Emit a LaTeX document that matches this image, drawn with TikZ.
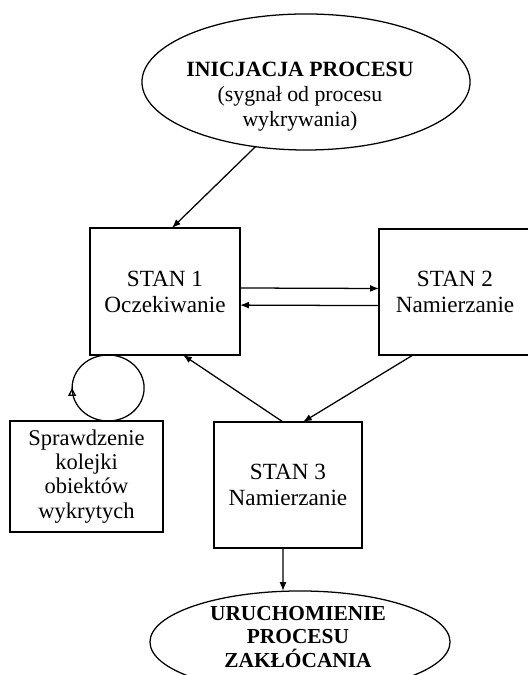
\documentclass[tikz,border=0pt]{standalone}
\usepackage{fontspec}
\setmainfont{Liberation Serif}
\usetikzlibrary{shapes.geometric,arrows.meta,decorations.markings}

\tikzset{
  stanbox/.style={draw, line width=0.9pt, align=center, inner sep=0pt, outer sep=0pt,
    font=\fontsize{16.5}{18.5}\selectfont},
  procell/.style={draw, ellipse, line width=0.9pt, inner sep=0pt, outer sep=0pt},
  proctxt/.style={align=center, inner sep=0pt},
  strz/.style={line width=0.9pt, -{Latex[length=0.22cm,width=0.17cm]}},
  petla/.style={line width=0.9pt, postaction={decorate},
    decoration={markings, mark=at position 0.25 with {\arrow{Triangle[open,length=0.2cm,width=0.2cm]}}}},
}

\begin{document}
\begin{tikzpicture}[x=0.025cm,y=0.025cm]
    \useasboundingbox (0,0) rectangle (527,675);
    % inicjacja
    \node[procell, minimum width=8.2cm, minimum height=3.4cm] (init) at (306,593) {};
    \node[proctxt, font=\fontsize{15.5}{17.7}\selectfont] (inittxt) at (300,578)
        {\textbf{INICJACJA PROCESU}\\(sygnał od procesu\\wykrywania)};

    % stany
    \node[stanbox, minimum width=3.75cm, minimum height=3.175cm] (stan1) at (165,383.5) {STAN 1\\Oczekiwanie};
    \node[stanbox, minimum width=3.8cm, minimum height=3.15cm] (stan2) at (455,383) {STAN 2\\Namierzanie};
    \node[stanbox, minimum width=3.7cm, minimum height=3.15cm] (stan3) at (288,190) {STAN 3\\Namierzanie};
    \node[stanbox, minimum width=3.825cm, minimum height=2.775cm, font=\fontsize{16}{17.2}\selectfont]
        (sprawdz) at (86.5,198.5) {Sprawdzenie\\kolejki\\obiektów\\wykrytych};

    % zaklocanie
    \node[procell, minimum width=7.5cm, minimum height=2.55cm] (wynik) at (300,33) {};
    \node[proctxt, font=\bfseries\fontsize{15.2}{16.6}\selectfont] (wyniktxt) at (298,38)
        {URUCHOMIENIE\\PROCESU\\ZAKŁÓCANIA};
    \coordinate (wejscie) at (283,84);

    % przejscia
    \draw[strz] (init.232) -- ([xshift=0.175cm]stan1.north);
    \draw[strz] ([yshift=0.0875cm]stan1.east) -- ([yshift=0.0875cm]stan2.west);
    \draw[strz] ([yshift=-0.34cm]stan2.west) -- ([yshift=-0.34cm]stan1.east);
    \draw[strz] ([xshift=-0.125cm]stan3.north) -- ([xshift=0.45cm]stan1.south);
    \draw[strz] ([xshift=-1.05cm]stan2.south) -- ([xshift=0.375cm]stan3.north);
    \draw[strz] ([xshift=-0.125cm]stan3.south) -- (wejscie);

    % petla
    \draw[petla] ([xshift=0.54cm]sprawdz.north) arc[start angle=270, end angle=-90, x radius=36, y radius=33];
\end{tikzpicture}
\end{document}
